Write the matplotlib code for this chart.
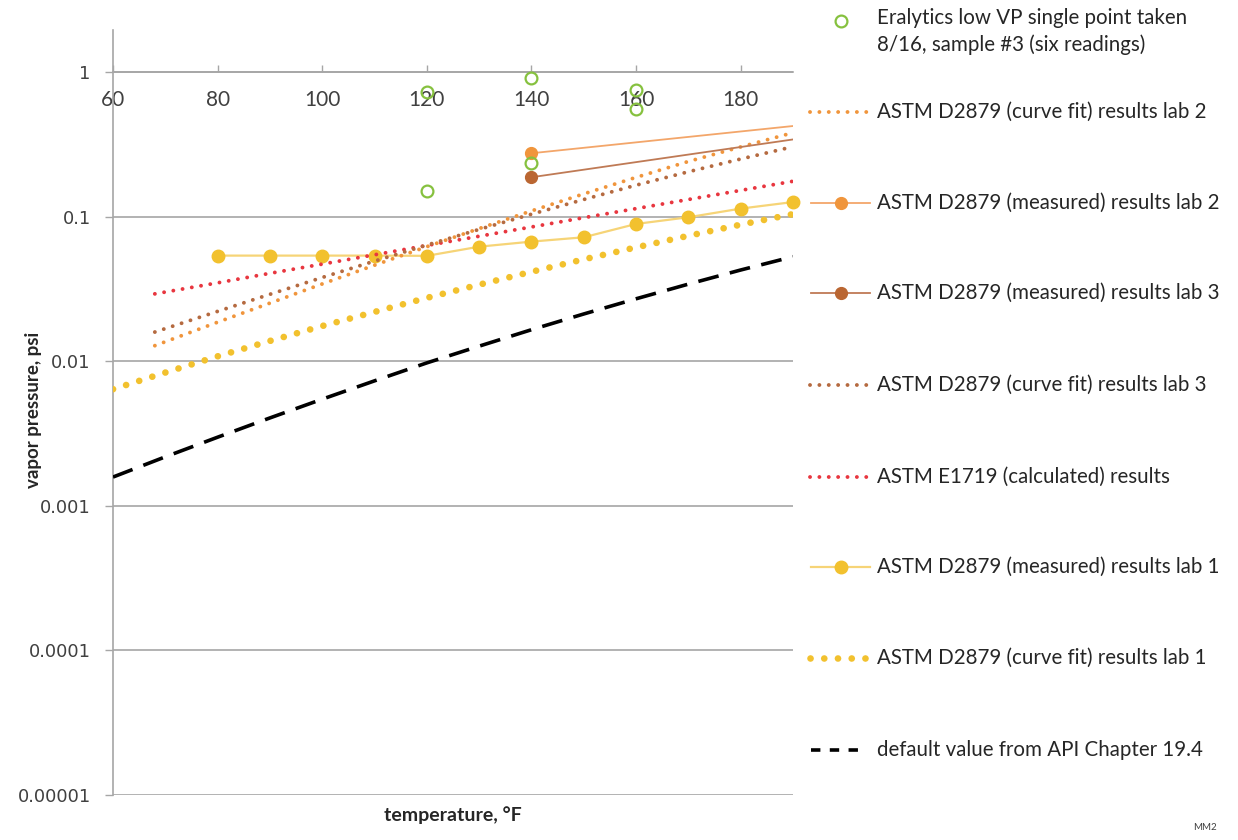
import matplotlib
matplotlib.use("Agg")
import matplotlib.pyplot as plt
from matplotlib.ticker import FixedLocator, FixedFormatter, NullLocator

# temperatures, °F
fit_t_60 = [60, 70, 80, 90, 100, 110, 120, 130, 140, 150, 160, 170, 180, 190]
fit_t_68 = [68, 80, 90, 100, 110, 120, 130, 140, 150, 160, 170, 180, 190]
lab1_meas_t = [80, 90, 100, 110, 120, 130, 140, 150, 160, 170, 180, 190]
lab2_meas_t = [140, 200]
lab3_meas_t = [140, 200]
eralytics_t = [120, 120, 140, 140, 160, 160]

# vapor pressure, psi
eralytics = [0.731, 0.151, 0.904, 0.233, 0.751, 0.552]
lab2_fit = [0.0128, 0.0186, 0.0252, 0.0342, 0.0461, 0.0619, 0.0826, 0.1094,
            0.1435, 0.1866, 0.2404, 0.303, 0.380]
lab2_meas = [0.274, 0.461]
lab3_meas = [0.187, 0.385]
lab3_fit = [0.0159, 0.0221, 0.0290, 0.0379, 0.0492, 0.0635, 0.0815, 0.1038,
            0.1312, 0.1648, 0.204, 0.250, 0.304]
e1719 = [0.0292, 0.0348, 0.0405, 0.0469, 0.0544, 0.0631, 0.0731, 0.0847,
         0.0982, 0.1135, 0.1312, 0.1517, 0.1754]
lab1_meas = [0.0537, 0.0537, 0.0537, 0.0537, 0.0535, 0.0619, 0.0671, 0.0719,
             0.0889, 0.0989, 0.1135, 0.126]
lab1_fit = [0.0064, 0.00834, 0.0108, 0.0138, 0.0175, 0.0219, 0.0274, 0.0338,
            0.0415, 0.0506, 0.0612, 0.0736, 0.0879, 0.104]
api_default = [0.00158, 0.00218, 0.00298, 0.00405, 0.00546, 0.00731, 0.00973,
               0.0127, 0.0165, 0.0212, 0.0270, 0.0341, 0.0427, 0.0528]

y_ticks = [1e-5, 1e-4, 1e-3, 1e-2, 1e-1, 1]
y_tick_labels = ['0.00001', '0.0001', '0.001', '0.01', '0.1', '1']
x_ticks = [60, 80, 100, 120, 140, 160, 180]

labels = ['Eralytics low VP single point taken\n8/16, sample #3 (six readings)',
          'ASTM D2879 (curve fit) results lab 2',
          'ASTM D2879 (measured) results lab 2',
          'ASTM D2879 (measured) results lab 3',
          'ASTM D2879 (curve fit) results lab 3',
          'ASTM E1719 (calculated) results',
          'ASTM D2879 (measured) results lab 1',
          'ASTM D2879 (curve fit) results lab 1',
          'default value from API Chapter 19.4']

GREEN = '#86C13F'
ORANGE = '#F0953C'
ORANGE_LN = '#F3A66A'
BROWN = '#BA6632'
BROWN_LN = '#BF7A55'
BROWN_DOT = '#B56A40'
RED = '#E8363F'
YELLOW = '#F2C12E'
YELLOW_LN = '#F6D477'
GRID = '#A6A6A6'
FONT = 'Lato'

dot = (0, (0.01, 2.4))
bigdot = (0, (0.01, 2.05))
dash = (0, (5.8, 3.2))

# style of each series, in legend order
styles = [
    dict(ls='none', marker='o', ms=8.5, mfc='none', mec=GREEN, mew=1.6),
    dict(color=ORANGE, ls=dot, lw=2.8, dash_capstyle='round'),
    dict(color=ORANGE_LN, lw=1.3, marker='o', ms=8.5, mfc=ORANGE, mec=ORANGE),
    dict(color=BROWN_LN, lw=1.3, marker='o', ms=8.5, mfc=BROWN, mec=BROWN),
    dict(color=BROWN_DOT, ls=dot, lw=2.8, dash_capstyle='round'),
    dict(color=RED, ls=dot, lw=2.8, dash_capstyle='round'),
    dict(color=YELLOW_LN, lw=1.6, marker='o', ms=9, mfc=YELLOW, mec=YELLOW),
    dict(color=YELLOW, ls=bigdot, lw=4.8, dash_capstyle='round'),
    dict(color='black', ls=dash, lw=2.6),
]

W, H = 1238, 840
fig = plt.figure(figsize=(W / 100, H / 100), dpi=100)
ax = fig.add_axes([113 / W, 1 - 795 / H, 680 / W, 765 / H])

ax.set_yscale('log')
ax.set_xlim(60, 190)
ax.set_ylim(1e-5, 1.95)

series = [
    (eralytics_t, eralytics),
    (fit_t_68, lab2_fit),
    (lab2_meas_t, lab2_meas),
    (lab3_meas_t, lab3_meas),
    (fit_t_68, lab3_fit),
    (fit_t_68, e1719),
    (lab1_meas_t, lab1_meas),
    (fit_t_60, lab1_fit),
    (fit_t_60, api_default),
]
draw_order = [8, 7, 6, 5, 4, 1, 3, 2, 0]
for n, i in enumerate(draw_order):
    x, y = series[i]
    ln, = ax.plot(x, y, zorder=3 + n * 0.01, **styles[i])
    if i in (0, 6):
        ln.set_clip_on(False)

ax.yaxis.set_major_locator(FixedLocator(y_ticks))
ax.yaxis.set_major_formatter(FixedFormatter(y_tick_labels))
ax.yaxis.set_minor_locator(NullLocator())
ax.xaxis.set_major_locator(FixedLocator(x_ticks))
ax.xaxis.set_minor_locator(NullLocator())

for s in ['top', 'right']:
    ax.spines[s].set_visible(False)
ax.spines['bottom'].set_position(('data', 1))
ax.spines['bottom'].set_color(GRID)
ax.spines['bottom'].set_linewidth(1.2)
ax.spines['left'].set_color(GRID)
ax.spines['left'].set_linewidth(1.2)

ax.yaxis.grid(True, color=GRID, lw=1.2)
ax.set_axisbelow(True)

ax.tick_params(axis='x', direction='in', length=5, width=1.0, color=GRID,
               pad=13, labelsize=15, labelcolor='#404040')
ax.tick_params(axis='y', direction='out', length=6, width=1.0, color=GRID,
               pad=10, labelsize=12.8, labelcolor='#404040')
for lbl in ax.get_xticklabels():
    lbl.set_fontfamily(FONT)
for lbl in ax.get_yticklabels():
    lbl.set_fontfamily('DejaVu Sans')

fig.text(453 / W, 1 - 815 / H, 'temperature, °F', ha='center', va='center',
         fontsize=14, fontweight='bold', family=FONT, color='#262626')
fig.text(34 / W, 1 - 410 / H, 'vapor pressure, psi', ha='center', va='center',
         rotation=90, fontsize=13.5, fontweight='bold', family=FONT, color='#262626')
fig.text(1205 / W, 1 - 827 / H, 'MM2', ha='center', va='center',
         fontsize=7, family=FONT, color='#404040')

# legend on the right, laid out like the original
lax = fig.add_axes([0, 0, 1, 1])
lax.set_xlim(0, W)
lax.set_ylim(H, 0)
lax.axis('off')
legend_y = [20.7, 111.7, 203.3, 293.3, 385, 477.3, 566.7, 658.3, 750]
for i, (lab, ly) in enumerate(zip(labels, legend_y)):
    st = dict(styles[i])
    if i == 0:
        lax.plot([841], [ly], **st)
        lax.text(877, ly - 13, lab, va='top', ha='left', fontsize=14.8,
                 family=FONT, color='#262626', linespacing=1.4)
        continue
    if i == 7:
        lax.plot([810, 868], [ly, ly], **st)
    elif i == 8:
        st['ls'] = (0, (2.6, 2.6))
        lax.plot([811, 861], [ly, ly], **st)
    elif 'marker' in st:
        lax.plot([811, 870], [ly, ly], markevery=[], **st)
        lax.plot([841], [ly], ls='none', marker='o', ms=st['ms'],
                 mfc=st['mfc'], mec=st['mec'])
    else:
        lax.plot([810, 868], [ly, ly], **st)
    lax.text(877, ly, lab, va='center', ha='left', fontsize=14.8,
             family=FONT, color='#262626')

fig.savefig('out.png', dpi=100)
